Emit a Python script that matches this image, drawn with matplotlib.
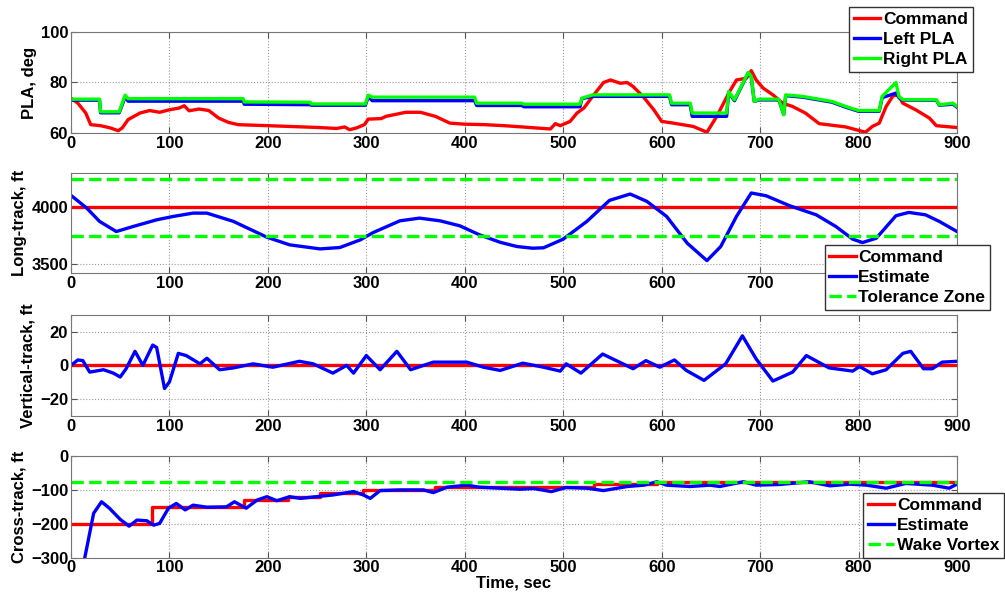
import matplotlib
matplotlib.use("Agg")
import matplotlib.pyplot as plt
import numpy as np

plt.rcParams['font.family'] = ['Liberation Sans', 'DejaVu Sans']
plt.rcParams['font.weight'] = 'bold'
plt.rcParams['axes.labelweight'] = 'bold'

# ---- PLA panel ----
cmd_t = [0, 7, 15, 20, 30, 40, 48, 52, 58, 70, 80, 90, 100, 110, 115, 120, 130, 140, 150, 160,
         170, 200, 250, 270, 278, 283, 290, 298, 302, 315, 320, 340, 355, 370, 385, 400, 420, 440,
         487, 492, 497, 507, 514, 521, 531, 541, 548, 558, 565, 571, 581, 592, 600, 612, 632, 646,
         656, 669, 676, 686, 691, 696, 703, 713, 723, 733, 746, 760, 787, 807, 814, 821, 828, 835,
         840, 845, 858, 872, 879, 899]
cmd_pla = [73.8, 71.8, 67.9, 63.3, 62.9, 62.0, 60.9, 62.0, 65.3, 67.9, 68.9, 68.2, 69.2, 69.9, 70.8,
           68.8, 69.5, 68.9, 65.9, 64.2, 63.3, 62.9, 62.2, 61.8, 62.4, 61.3, 62.0, 63.3, 65.5, 65.7,
           66.6, 68.2, 68.2, 66.6, 63.9, 63.5, 63.3, 62.9, 61.6, 63.7, 62.9, 64.6, 67.9, 69.9, 75.1,
           80.0, 81.0, 79.7, 80.0, 78.4, 74.5, 69.2, 64.6, 63.9, 62.6, 60.3, 66.6, 76.4, 81.0, 81.7,
           84.7, 81.0, 77.8, 75.1, 71.8, 70.5, 67.9, 63.7, 62.4, 60.3, 62.6, 63.9, 70.5, 74.7, 75.1,
           71.8, 69.2, 65.9, 62.9, 62.2]

pla_t = [0, 29, 30, 49, 55, 58, 175, 176, 243, 244, 299, 302, 306, 410, 412, 458, 460,
         517, 519, 530, 608, 610, 629, 631, 666, 668, 674, 679, 688, 691, 694, 699, 719,
         724, 726, 743, 773, 787, 800, 821, 824, 838, 841, 845, 879, 882, 896, 900]
left_pla = [73.0, 73.0, 68.0, 68.0, 74.3, 72.6, 72.6, 71.4, 71.2, 71.0, 71.0, 74.3, 72.8, 72.8,
            70.9, 70.9, 70.4, 70.4, 73.6, 74.5, 74.5, 71.2, 71.2, 66.6, 66.6, 76.0, 72.8, 76.8,
            83.8, 82.2, 72.5, 73.1, 73.1, 67.4, 74.8, 74.2, 72.2, 70.2, 68.6, 68.6, 74.0, 75.8,
            74.0, 73.0, 73.0, 71.0, 71.4, 70.2]
right_pla = [73.4, 73.4, 68.4, 68.4, 75.0, 73.6, 73.6, 72.3, 72.2, 71.5, 71.5, 75.0, 74.2, 74.2,
             71.8, 71.8, 71.4, 71.4, 73.8, 75.1, 75.1, 71.8, 71.8, 67.9, 67.9, 76.4, 73.2, 77.1,
             84.0, 82.4, 72.5, 73.4, 73.4, 67.2, 75.1, 74.5, 72.5, 70.5, 68.9, 68.9, 74.5, 80.0,
             74.5, 73.2, 73.2, 71.2, 71.8, 70.5]

# ---- Long-track panel ----
lt_t = [0, 16, 29, 46, 63, 87, 104, 124, 138, 165, 199, 222, 253, 273, 294, 307, 334, 354, 375,
        395, 415, 436, 453, 469, 480, 500, 524, 547, 568, 585, 605, 626, 646, 660, 676, 691, 706,
        730, 757, 777, 794, 804, 818, 838, 851, 868, 882, 900]
lt_est = [4103, 3991, 3874, 3785, 3829, 3888, 3918, 3947, 3947, 3874, 3735, 3668, 3632, 3644,
          3712, 3776, 3879, 3903, 3879, 3835, 3756, 3690, 3653, 3638, 3642, 3718, 3874, 4059,
          4115, 4050, 3918, 3682, 3529, 3653, 3918, 4124, 4100, 4012, 3932, 3829, 3718, 3688,
          3726, 3924, 3953, 3932, 3874, 3785]
lt_cmd = 4000
lt_tol = [3750, 4250]

# ---- Vertical-track panel ----
vt_t = [0, 7, 12, 19, 33, 43, 50, 56, 65, 73, 83, 87, 95, 100, 109, 117, 131, 138, 151, 165,
        185, 205, 232, 246, 266, 280, 287, 300, 314, 331, 345, 368, 402, 419, 436, 459, 480, 497,
        503, 518, 540, 571, 584, 598, 613, 625, 643, 665, 682, 696, 713, 733, 747, 770, 794, 801,
        814, 828, 845, 853, 866, 875, 885, 900]
vt_est = [0, 3.2, 2.8, -4.0, -2.6, -4.6, -6.9, -2.0, 8.3, 0, 12.0, 10.6, -13.7, -9.8, 7.1, 5.8,
          0.9, 4.2, -2.6, -1.5, 0.9, -1.1, 2.4, 0.9, -4.6, 0, -4.6, 5.8, -2.6, 8.3, -2.6, 1.9, 1.9,
          -1.1, -3.0, 1.3, -1.1, -3.4, 0.9, -4.6, 6.7, -2.0, 2.8, -1.1, 3.2, -3.0, -8.9, 0.9, 17.5,
          3.8, -9.3, -4.0, 5.8, -1.5, -3.4, -0.7, -5.0, -2.6, 7.1, 8.3, -2.0, -2.0, 1.9, 2.4]
vt_cmd = 0

# ---- Cross-track panel ----
ct_cmd_t = [0, 82, 82, 176, 176, 220, 220, 253, 253, 297, 297, 370, 370, 531, 531, 595, 595, 900]
ct_cmd = [-200, -200, -150, -150, -130, -130, -120, -120, -110, -110, -100, -100, -90, -90,
          -84, -84, -78, -78]
ct_t = [14, 23, 31, 39, 50, 59, 67, 77, 84, 90, 99, 107, 116, 124, 138, 158, 166, 178, 189, 199,
        209, 222, 233, 249, 266, 287, 297, 304, 314, 334, 358, 368, 382, 402, 415, 436, 456, 470,
        488, 503, 524, 541, 565, 582, 595, 605, 629, 649, 659, 683, 696, 720, 750, 771, 791, 808,
        828, 848, 875, 892, 900]
ct_est = [-300, -169, -135, -154, -187, -207, -189, -191, -204, -199, -154, -140, -159, -145,
          -151, -150, -135, -154, -130, -120, -132, -120, -125, -120, -115, -105, -115, -125,
          -102, -100, -100, -108, -92, -86, -92, -95, -98, -96, -105, -93, -95, -102, -90, -86,
          -76, -86, -90, -86, -90, -76, -86, -84, -76, -88, -83, -86, -95, -81, -86, -95, -83]
wake_vortex = -78

W, H = 1005, 596
fig = plt.figure(figsize=(W / 100, H / 100), dpi=100)


def make_ax(top_px, bot_px):
    ax = fig.add_axes([71 / W, 1 - bot_px / H, 886 / W, (bot_px - top_px) / H])
    ax.set_xlim(0, 900)
    ax.set_xticks(range(0, 901, 100))
    ax.grid(True, linestyle=':', color='#9a9a9a', linewidth=0.8)
    ax.tick_params(direction='in', top=True, right=True, labelsize=12, length=4,
                   color='#555555', pad=2)
    for lbl in ax.get_xticklabels() + ax.get_yticklabels():
        lbl.set_fontweight('bold')
    for s in ax.spines.values():
        s.set_color('#777777')
    return ax


lw = 2.4
lkw = dict(loc='upper right', bbox_transform=fig.transFigure, fancybox=False, framealpha=1,
           edgecolor='#333333', prop={'weight': 'bold', 'size': 12.5}, borderaxespad=0,
           handlelength=1.5, handletextpad=0.15, labelspacing=0.28, borderpad=0.28)

ax1 = make_ax(32, 133)
ax1.plot(cmd_t, cmd_pla, color='red', lw=lw, label='Command')
ax1.plot(pla_t, left_pla, color='blue', lw=lw, label='Left PLA')
ax1.plot(pla_t, right_pla, color='#00ff00', lw=lw, label='Right PLA')
ax1.set_ylim(60, 100)
ax1.set_yticks([60, 80, 100])
ax1.set_ylabel('PLA, deg', fontsize=12, fontweight='bold', labelpad=3)
ax1.legend(bbox_to_anchor=(972.7 / W, 1 - 6.7 / H), **lkw)

ax2 = make_ax(173, 273)
ax2.plot([0, 900], [lt_cmd, lt_cmd], color='red', lw=lw, label='Command')
ax2.plot(lt_t, lt_est, color='blue', lw=lw, label='Estimate')
ax2.plot([0, 900], [lt_tol[0]] * 2, color='#00ff00', lw=lw, ls='--', label='Tolerance Zone')
ax2.plot([0, 900], [lt_tol[1]] * 2, color='#00ff00', lw=lw, ls='--')
ax2.set_ylim(3420, 4300)
ax2.set_yticks([3500, 4000])
ax2.set_ylabel('Long-track, ft', fontsize=12, fontweight='bold', labelpad=3)
ax2.legend(bbox_to_anchor=(990 / W, 1 - 245 / H), **lkw)
# the 800 and 900 labels sit under the legend box, as in the original
for lbl in ax2.get_xticklabels()[-2:]:
    lbl.set_visible(False)

ax3 = make_ax(314.7, 416)
ax3.plot([0, 900], [vt_cmd, vt_cmd], color='red', lw=lw)
ax3.plot(vt_t, vt_est, color='blue', lw=lw)
ax3.set_ylim(-30, 30)
ax3.set_yticks([-20, 0, 20])
ax3.set_ylabel('Vertical-track, ft', fontsize=12, fontweight='bold', labelpad=3)

ax4 = make_ax(456, 557.7)
ax4.plot(ct_cmd_t, ct_cmd, color='red', lw=lw, label='Command')
ax4.plot(ct_t, ct_est, color='blue', lw=lw, label='Estimate')
ax4.plot([0, 900], [wake_vortex] * 2, color='#00ff00', lw=lw, ls='--', label='Wake Vortex')
ax4.set_ylim(-300, 0)
ax4.set_yticks([-300, -200, -100, 0])
ax4.set_ylabel('Cross-track, ft', fontsize=12, fontweight='bold', labelpad=3)
ax4.set_xlabel('Time, sec', fontsize=12, fontweight='bold', labelpad=0)
ax4.legend(bbox_to_anchor=(1004 / W, 1 - 492.7 / H), **lkw)

fig.savefig('out.png', dpi=100)
